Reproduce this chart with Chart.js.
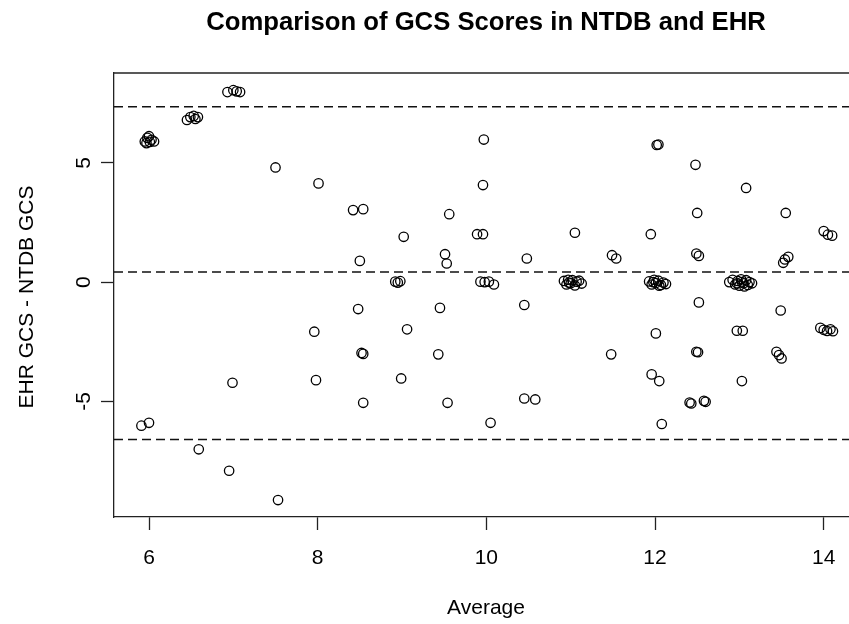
<!DOCTYPE html>
<html>
<head>
<meta charset="utf-8">
<script src="https://cdn.jsdelivr.net/npm/chart.js@4.4.1/dist/chart.umd.min.js"></script>
<style>
  html, body { margin: 0; padding: 0; background: #fff; overflow: hidden; }
  canvas { display: block; }
</style>
</head>
<body>
<canvas id="chart" width="849" height="624"></canvas>
<script>
// average of the two GCS scores
const avgScores = [
  5.95, 5.98, 6.00, 6.03, 6.06, 5.97, 6.01,
  6.45, 6.49, 6.53, 6.58, 6.55,
  6.93, 7.00, 7.04, 7.08,
  7.50, 8.01, 8.42, 8.54, 8.50, 9.02,
  8.92, 8.95, 8.98,
  9.97, 9.96, 9.56, 9.89, 9.96, 9.51, 9.53,
  9.93, 9.98, 10.03, 10.09,
  10.48, 11.05,
  10.92, 10.95, 10.97, 11.00, 11.02, 11.05, 11.07, 11.10, 11.13, 10.98,
  12.02, 12.04, 12.48, 13.08, 12.50, 13.55, 11.95,
  14.00, 14.05, 14.10,
  11.49, 11.54, 12.49, 12.52, 13.52, 13.58, 13.54,
  11.93, 11.96, 11.99, 12.01, 12.04, 12.07, 12.10, 12.13, 11.98, 12.05,
  12.88, 12.92, 12.95, 12.98, 13.00, 13.02, 13.05, 13.08, 13.10, 13.12, 13.15, 12.97, 13.03, 13.06,
  8.48, 9.45, 10.45, 9.06, 8.52, 8.54, 9.43, 8.99, 8.54, 9.54, 10.45, 10.58, 10.05,
  7.96, 7.98, 6.99, 5.91, 6.00, 6.59, 6.95, 7.53,
  12.52, 13.49, 12.01, 12.97, 13.04,
  13.96, 14.00, 14.04, 14.08, 14.11,
  11.48, 12.49, 12.51, 13.44, 13.47, 13.50, 11.96, 12.05, 13.03,
  12.43, 12.41, 12.58, 12.60, 12.08
];
// EHR GCS - NTDB GCS
const diffScores = [
  5.90, 6.05, 6.12, 5.97, 5.90, 5.83, 5.88,
  6.80, 6.92, 6.97, 6.92, 6.84,
  7.97, 8.05, 8.00, 7.97,
  4.81, 4.14, 3.02, 3.06, 0.89, 1.90,
  0.02, -0.02, 0.04,
  5.98, 4.07, 2.85, 2.01, 2.01, 1.17, 0.78,
  0.02, 0.00, 0.02, -0.10,
  0.99, 2.07,
  0.05, -0.10, 0.10, -0.05, 0.08, -0.14, 0.02, 0.06, -0.06, -0.02,
  5.75, 5.77, 4.92, 3.95, 2.90, 2.90, 2.01,
  2.14, 1.99, 1.95,
  1.13, 0.99, 1.20, 1.10, 0.81, 1.06, 0.95,
  0.03, -0.10, 0.10, -0.04, 0.06, -0.12, -0.02, -0.08, 0.00, -0.15,
  0.00, 0.10, -0.10, 0.05, -0.15, 0.12, -0.05, 0.08, -0.12, 0.00, -0.05, -0.05, 0.00, -0.18,
  -1.13, -1.08, -0.96, -1.98, -2.97, -3.01, -3.03, -4.04, -5.06, -5.06, -4.88, -4.92, -5.90,
  -2.08, -4.11, -4.22, -6.02, -5.90, -7.01, -7.91, -9.14,
  -0.85, -1.19, -2.15, -2.04, -2.04,
  -1.92, -2.00, -2.05, -1.98, -2.06,
  -3.03, -2.92, -2.94, -2.92, -3.06, -3.20, -3.87, -4.15, -4.15,
  -5.09, -5.05, -4.98, -5.02, -5.95
];

const meanDiff = 0.42;
const upperLimit = 7.35;
const lowerLimit = -6.6;

const xTicks = [6, 8, 10, 12, 14];
const yTicks = [-5, 0, 5];
const xRange = [5.585, 14.30];
const yRange = [-9.85, 8.77];

const FONT = "'Liberation Sans', Arial, sans-serif";

const points = avgScores.map((x, i) => ({ x: x, y: diffScores[i] }));
const hLine = (v) => [{ x: xRange[0], y: v }, { x: xRange[1], y: v }];

const dashed = {
  type: 'line',
  borderColor: '#111',
  borderWidth: 1.5,
  borderDash: [9, 5],
  pointRadius: 0,
  fill: false,
};

// R-like box, rotated y labels and titles
const rDecor = {
  id: 'rDecor',
  afterDraw(chart) {
    const { ctx, chartArea } = chart;
    const yScale = chart.scales.y;
    ctx.save();
    ctx.strokeStyle = '#222';
    ctx.lineWidth = 1.3;
    ctx.beginPath();
    ctx.moveTo(chartArea.left, chartArea.top);
    ctx.lineTo(chartArea.right, chartArea.top);
    ctx.stroke();

    ctx.fillStyle = '#000';
    ctx.textAlign = 'center';

    // y tick labels, parallel to the axis
    ctx.font = '21px ' + FONT;
    yTicks.forEach((v) => {
      const py = yScale.getPixelForValue(v);
      ctx.save();
      ctx.translate(90, py);
      ctx.rotate(-Math.PI / 2);
      ctx.textBaseline = 'alphabetic';
      ctx.fillText(String(v), 0, 0);
      ctx.restore();
    });

    // y axis title
    ctx.save();
    ctx.translate(33, 297);
    ctx.rotate(-Math.PI / 2);
    ctx.fillText('EHR GCS - NTDB GCS', 0, 0);
    ctx.restore();

    // x axis title
    const cx = (chartArea.left + 858) / 2;
    ctx.fillText('Average', cx, 614);

    // main title
    ctx.font = 'bold 25.7px ' + FONT;
    ctx.fillText('Comparison of GCS Scores in NTDB and EHR', cx, 30);
    ctx.restore();
  }
};

new Chart(document.getElementById('chart'), {
  type: 'scatter',
  data: {
    datasets: [
      {
        data: points,
        pointStyle: 'circle',
        pointRadius: 4.7,
        pointHoverRadius: 4.7,
        borderWidth: 1.3,
        borderColor: '#000',
        backgroundColor: 'rgba(0,0,0,0)',
      },
      Object.assign({ data: hLine(upperLimit) }, dashed),
      Object.assign({ data: hLine(meanDiff) }, dashed),
      Object.assign({ data: hLine(lowerLimit) }, dashed),
    ]
  },
  options: {
    responsive: false,
    animation: false,
    devicePixelRatio: 1,
    layout: { autoPadding: false, padding: { top: 73, right: 0, left: 0, bottom: 0 } },
    plugins: {
      legend: { display: false },
      title: { display: false },
      tooltip: { enabled: false },
    },
    scales: {
      x: {
        type: 'linear',
        min: xRange[0],
        max: xRange[1],
        afterBuildTicks: (scale) => { scale.ticks = xTicks.map((v) => ({ value: v })); },
        afterFit: (scale) => {
          scale.height = 107;
          scale.paddingLeft = 0;
          scale.paddingRight = 0;
        },
        grid: {
          drawOnChartArea: false,
          drawTicks: true,
          tickLength: 13,
          tickWidth: 1.3,
          tickColor: '#222',
        },
        border: { display: true, color: '#222', width: 1.3 },
        ticks: {
          color: '#000',
          padding: 16,
          maxRotation: 0,
          font: { family: FONT, size: 21 },
        },
      },
      y: {
        type: 'linear',
        min: yRange[0],
        max: yRange[1],
        afterBuildTicks: (scale) => { scale.ticks = yTicks.map((v) => ({ value: v })); },
        afterFit: (scale) => { scale.width = 114; },
        grid: {
          drawOnChartArea: false,
          drawTicks: true,
          tickLength: 13,
          tickWidth: 1.3,
          tickColor: '#222',
        },
        border: { display: true, color: '#222', width: 1.3 },
        ticks: { display: false },
      },
    },
  },
  plugins: [rDecor],
});
</script>
</body>
</html>
